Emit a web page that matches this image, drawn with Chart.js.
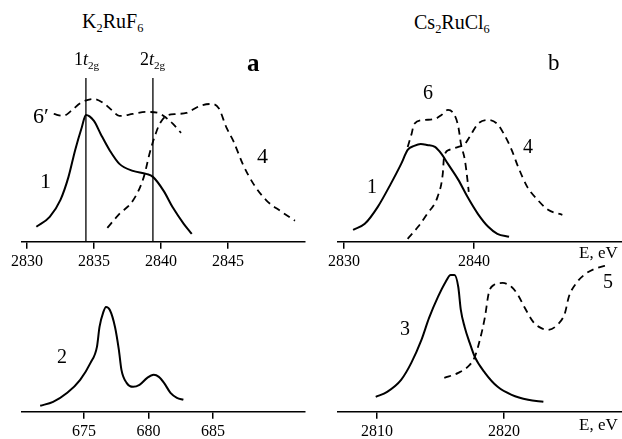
<!DOCTYPE html>
<html>
<head>
<meta charset="utf-8">
<script src="https://cdn.jsdelivr.net/npm/chart.js@4.4.1/dist/chart.umd.min.js"></script>
<style>
body { margin: 0; background: #fff; width: 622px; height: 439px; overflow: hidden; position: relative; font-family: 'Liberation Serif', serif; color: #000; }
.box { position: absolute; }
.t { position: absolute; line-height: 1; white-space: nowrap; z-index: 2; }
sub { font-size: 62%; vertical-align: -0.35em; line-height: 0; }
</style>
</head>
<body>
<div class="box" style="left:0;top:60px;width:311px;height:219px"><canvas id="chartA"></canvas></div>
<div class="box" style="left:311px;top:60px;width:311px;height:219px"><canvas id="chartB"></canvas></div>
<div class="box" style="left:0;top:257px;width:311px;height:187px"><canvas id="chartC"></canvas></div>
<div class="box" style="left:311px;top:257px;width:311px;height:187px"><canvas id="chartD"></canvas></div>

<div class="t" style="left:82px;top:11px;font-size:20px">K<sub>2</sub>RuF<sub>6</sub></div>
<div class="t" style="left:414px;top:12px;font-size:20px">Cs<sub>2</sub>RuCl<sub>6</sub></div>
<div class="t" style="left:74px;top:50px;font-size:18px">1<i>t</i><sub>2g</sub></div>
<div class="t" style="left:140px;top:50px;font-size:18px">2<i>t</i><sub>2g</sub></div>
<div class="t" style="left:247px;top:50px;font-size:25px;font-weight:bold">a</div>
<div class="t" style="left:548px;top:51px;font-size:23px">b</div>
<div class="t" style="left:33px;top:105px;font-size:22px">6&#8242;</div>
<div class="t" style="left:40px;top:170px;font-size:22px">1</div>
<div class="t" style="left:257px;top:145px;font-size:22px">4</div>
<div class="t" style="left:423px;top:82px;font-size:20px">6</div>
<div class="t" style="left:523px;top:136px;font-size:20px">4</div>
<div class="t" style="left:367px;top:176px;font-size:20px">1</div>
<div class="t" style="left:579px;top:244px;font-size:17px">E, eV</div>
<div class="t" style="left:57px;top:346px;font-size:20px">2</div>
<div class="t" style="left:400px;top:318px;font-size:20px">3</div>
<div class="t" style="left:603px;top:271px;font-size:20px">5</div>
<div class="t" style="left:579px;top:416px;font-size:17px">E, eV</div>

<script>
// panel a (K2RuF6): energies in eV, intensities in arbitrary units
const eA1 = [2830.7, 2831.7, 2832.5, 2833.1, 2833.6, 2834.1, 2834.4, 2835.0, 2835.5, 2836.2, 2836.9, 2837.9, 2838.9, 2839.4, 2840.2, 2840.9, 2841.7, 2842.3];
const iA1 = [15, 25, 42, 65, 92, 115, 127, 121, 108, 91, 78, 71, 68, 65, 51, 34, 18, 8];
const eA6 = [2832.0, 2832.7, 2833.3, 2834.0, 2835.0, 2835.7, 2836.4, 2836.9, 2837.9, 2838.9, 2839.8, 2840.4, 2840.9, 2841.5];
const iA6 = [128, 126, 131, 139, 143, 139, 131, 126, 128, 130, 129, 124, 118, 109];
const eA4 = [2836.0, 2836.9, 2837.9, 2838.7, 2839.2, 2839.6, 2839.9, 2840.4, 2841.2, 2841.9, 2842.9, 2843.7, 2844.3, 2844.9, 2845.4, 2846.1, 2846.9, 2847.9, 2848.9, 2850.0];
const iA4 = [14, 28, 41, 64, 91, 108, 118, 126, 128, 129, 136, 138, 134, 114, 101, 78, 58, 41, 31, 21];
const eT2g = [2834.4, 2839.4];
const iT2g = 164;
const ticksA = [2830, 2835, 2840, 2845];

// panel b (Cs2RuCl6)
const eB1 = [2830.7, 2831.6, 2832.6, 2833.6, 2834.4, 2834.9, 2835.4, 2835.9, 2836.4, 2837.0, 2837.5, 2838.0, 2838.8, 2839.5, 2840.3, 2841.1, 2841.8, 2842.7];
const iB1 = [12, 18, 35, 58, 78, 92, 96, 98, 97, 95, 88, 78, 62, 45, 28, 15, 8, 5];
const eB6 = [2834.9, 2835.2, 2835.4, 2836.2, 2837.0, 2837.5, 2838.0, 2838.5, 2838.8, 2839.0, 2839.3, 2839.5, 2839.6];
const iB6 = [95, 108, 118, 122, 123, 127, 132, 127, 115, 98, 82, 62, 50];
const eB4 = [2834.9, 2835.7, 2836.4, 2837.2, 2837.6, 2837.7, 2838.1, 2838.8, 2839.3, 2839.8, 2840.3, 2841.1, 2841.8, 2842.3, 2842.9, 2843.4, 2844.1, 2844.9, 2845.7, 2846.8];
const iB4 = [3, 15, 28, 45, 68, 85, 92, 95, 98, 108, 118, 122, 118, 108, 92, 75, 55, 42, 32, 27];
const ticksB = [2830, 2840];

// lower left: F K-edge of K2RuF6
const eC2 = [671.6, 672.6, 673.7, 674.7, 675.5, 676.0, 676.2, 676.5, 676.7, 677.0, 677.4, 677.7, 677.9, 678.3, 678.8, 679.3, 679.9, 680.4, 680.8, 681.2, 681.7, 682.2, 682.7];
const iC2 = [6, 10, 19, 32, 49, 65, 85, 100, 105, 102, 85, 62, 42, 29, 25, 27, 34, 37, 35, 29, 19, 14, 12];
const ticksC = [675, 680, 685];

// lower right: Cl K-edge of Cs2RuCl6
const eD3 = [2809.9, 2810.8, 2811.9, 2812.7, 2813.5, 2814.1, 2814.8, 2815.4, 2815.8, 2816.1, 2816.4, 2816.6, 2816.9, 2817.3, 2817.7, 2818.5, 2819.5, 2820.6, 2821.9, 2823.1];
const iD3 = [15, 20, 32, 49, 72, 94, 115, 130, 137, 137, 125, 102, 85, 69, 55, 39, 25, 17, 12, 10];
const eD5 = [2815.3, 2816.4, 2817.3, 2817.7, 2818.1, 2818.5, 2818.8, 2819.2, 2819.9, 2820.6, 2821.1, 2821.6, 2822.3, 2822.9, 2823.4, 2824.2, 2824.8, 2825.1, 2825.7, 2826.3, 2827.1, 2827.9, 2828.3];
const iD5 = [34, 39, 47, 55, 72, 95, 119, 127, 129, 125, 117, 105, 90, 84, 82, 87, 99, 115, 129, 137, 143, 146, 147];
const ticksD = [2810, 2820];

function curve(xs, ys, dashed) {
    return {
        data: xs.map((x, i) => ({ x: x, y: ys[i] })),
        borderColor: '#000',
        borderWidth: dashed ? 1.8 : 2,
        borderDash: dashed ? [7, 5] : [],
        pointRadius: 0,
        fill: false,
        cubicInterpolationMode: 'monotone'
    };
}

function vline(x, top) {
    return {
        data: [{ x: x, y: 0 }, { x: x, y: top }],
        borderColor: '#000',
        borderWidth: 1.3,
        pointRadius: 0,
        tension: 0
    };
}

function makeChart(id, datasets, ticks, xmin, xmax, ymax, padding) {
    new Chart(document.getElementById(id), {
        type: 'line',
        data: { datasets: datasets },
        options: {
            responsive: true,
            maintainAspectRatio: false,
            animation: false,
            layout: { padding: padding },
            plugins: { legend: { display: false }, tooltip: { enabled: false } },
            scales: {
                x: {
                    type: 'linear',
                    min: xmin,
                    max: xmax,
                    afterBuildTicks: function (scale) {
                        scale.ticks = ticks.map(v => ({ value: v }));
                    },
                    grid: { drawOnChartArea: false, drawTicks: true, tickLength: 7, color: '#000', lineWidth: 1.5 },
                    border: { display: true, color: '#000', width: 1.5 },
                    ticks: {
                        color: '#000', padding: 3, autoSkip: false, maxRotation: 0,
                        font: { family: 'Liberation Serif', size: 16 },
                        callback: v => String(v)  // no thousands separator
                    }
                },
                y: { display: false, min: 0, max: ymax }
            }
        }
    });
}

makeChart('chartA',
    [curve(eA1, iA1, false), curve(eA6, iA6, true), curve(eA4, iA4, true)].concat(eT2g.map(e => vline(e, iT2g))),
    ticksA, 2829.63, 2850.75, 172, { top: 10, bottom: 5, left: 22, right: 6 });

makeChart('chartB',
    [curve(eB1, iB1, false), curve(eB6, iB6, true), curve(eB4, iB4, true)],
    ticksB, 2829.54, 2851.39, 172, { top: 10, bottom: 5, left: 27, right: 0 });

makeChart('chartC',
    [curve(eC2, iC2, false)],
    ticksC, 670.19, 692.13, 150, { top: 5, bottom: 0, left: 22, right: 6 });

makeChart('chartD',
    [curve(eD3, iD3, false), curve(eD5, iD5, true)],
    ticksD, 2806.93, 2829.29, 150, { top: 5, bottom: 0, left: 27, right: 0 });
</script>
</body>
</html>
